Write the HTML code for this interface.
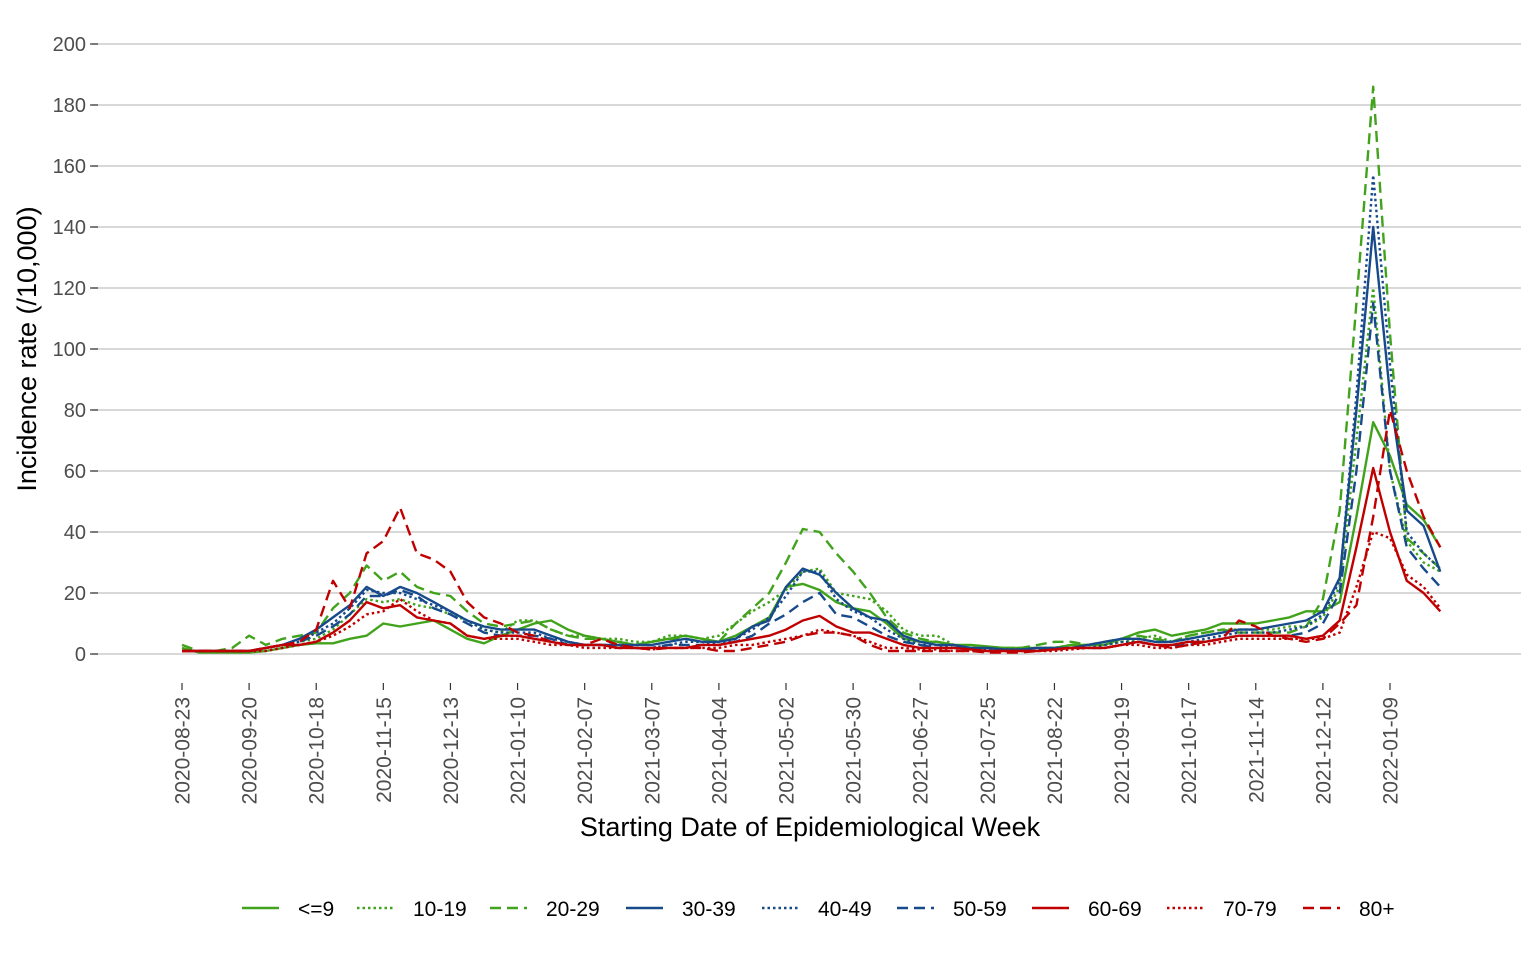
<!DOCTYPE html>
<html><head><meta charset="utf-8"><style>
html,body{margin:0;padding:0;background:#fff;}
svg{display:block;font-family:"Liberation Sans",Arial,sans-serif;}
</style></head><body>
<svg id="chart" width="1536" height="960" xmlns="http://www.w3.org/2000/svg">
<g id="grid"></g>
<g id="yticks"></g>
<g id="xticks"></g>
<g id="series"></g>
<text transform="translate(36,349) rotate(-90)" text-anchor="middle" font-size="27" fill="#000">Incidence rate (/10,000)</text>
<text x="810" y="836" text-anchor="middle" font-size="27" fill="#000">Starting Date of Epidemiological Week</text>
<g id="legend"></g>
</svg>
<script>
const yTicks=[0,20,40,60,80,100,120,140,160,180,200];
const xTickLabels=["2020-08-23","2020-09-20","2020-10-18","2020-11-15","2020-12-13","2021-01-10","2021-02-07","2021-03-07","2021-04-04","2021-05-02","2021-05-30","2021-06-27","2021-07-25","2021-08-22","2021-09-19","2021-10-17","2021-11-14","2021-12-12","2022-01-09"];
const seriesNames=["<=9","10-19","20-29","30-39","40-49","50-59","60-69","70-79","80+"];
const u9=[2,0.5,0.5,0.5,0.5,1,2,3,3.5,3.5, 5,6,10,9,10,11,8,5,3.5,6, 8,10,11,8,6,5,4,3,4,5, 6,5,4,6,9,12,22,23,21,17, 15,14,10,5,4,4,3,3,2.5,2, 2,2,2,3,3,3,5,7,8,6, 7,8,10,10,10,11,12,14,14,17, 45,76,65,49,44,35];
const g10=[1,1,1,1,1,2,3,4,5,8, 13,18,17,18,16,15,13,11,8,7, 11,11,8,6,6,5,5,4,4,6, 6,5,6,10,14,17,21,27,28,20, 19,18,14,8,6,6,3,2,2,2, 2,2,2,3,3,3,4,5,6,4, 6,7,8,8,8,8,9,9,12,22, 70,120,60,37,30,27];
const g20=[3,1,1,2,6,3,5,6,7,15, 20,29,24,27,22,20,19,14,10,9, 10,11,8,6,5,5,4,3,4,5, 5,4,4,10,15,20,30,41,40,33, 27,20,12,7,5,4,3,2,2,2, 2,3,4,4,3,4,5,6,5,4, 6,7,8,7,7,7,7,9,18,47, 115,186,105,38,33,28];
const b30=[1,1,1,1,1,2,3,5,8,12, 16,22,19,22,20,17,14,11,9,8, 8,8,6,4,3,3,3,3,3,4, 5,4,4,5,9,11,22,28,26,20, 15,12,11,6,4,3,3,2,2,1.5, 1.5,2,2,2,3,4,5,5,4,4, 5,6,7,8,8,9,10,11,14,25, 80,140,85,47,42,27];
const b40=[1,1,1,1,1,2,3,4,7,10, 15,21,20,20,18,16,14,11,8,7, 7,7,5,4,3,3,3,2,2,3, 4,4,3,5,8,12,19,27,27,18, 14,12,8,5,3,3,2,2,1.5,1.5, 1.5,2,2,2,2,3,4,4,3,3, 4,5,6,7,7,7,8,9,13,24, 85,157,95,40,33,28];
const b50=[1,1,1,1,1,2,3,4,6,9, 13,19,19,21,19,15,13,10,7,6, 6,6,5,3,3,3,2,2,2,3, 3,3,3,4,6,10,13,17,20,13, 12,9,6,4,3,2,2,2,1,1, 1,1.5,1.5,2,2,2,3,4,3,3, 3,4,5,6,6,6,6,7,10,20, 60,115,60,35,28,22];
const r60=[1,1,1,1,1,2,3,3,4,7, 11,17,15,16,12,11,10,6,5,6, 6,5,4,3,3,3,2,2,2,2, 2,3,3,4,5,6,8,11,12.5,9, 7,7,5,3,2,2,2,1.5,1,1, 1,1,1.5,2,2,2,3,4,3,3, 4,4,5,6,6,6,6,5,6,11, 35,61,40,24,20,14];
const r70=[1,1,1,1,1,1,2,3,4,6, 9,13,14,18,14,11,10,6,5,5, 5,4,3,3,2,2,2,2,1.5,2, 2,2,2,3,3,4,5,6,8,7, 6,4,2,2,1.5,1.5,1,1,1,1, 1,1,1,1.5,2,2,3,3,2,2, 3,3,4,5,5,5,5,5,5,7, 22,40,38,26,22,15];
const r80=[1,1,1,1,1,2,3,4,8,24, 15,33,37,48,33,31,27,17,12,10, 7,6,4,3,3,5,3,2,1.5,2, 2,2,1,1,2,3,4,6,7,7, 6,3,1,1,1,1,1,1,0.5,0.5, 0.5,1,1.5,2,2,2,3,4,3,2, 3,4,5,11,9,6,5,4,5,10, 16,45,80,60,45,35];
const seriesData=[u9,g10,g20,b30,b40,b50,r60,r70,r80];

const G="#41a31b",B="#174a8b",R="#c00000";
const styles=[[G,""],[G,"2.5,3"],[G,"11,6"],[B,""],[B,"2.5,3"],[B,"11,6"],[R,""],[R,"2.5,3"],[R,"11,6"]];
const legendX=[242,357,490,626,762,897,1032,1167,1303];
const NS="http://www.w3.org/2000/svg";
const x=i=>182+i*(1208/72);
const y=v=>654-v*(610/200);
function mk(tag,attrs,parent){const e=document.createElementNS(NS,tag);for(const k in attrs)e.setAttribute(k,attrs[k]);parent.appendChild(e);return e;}

const grid=document.getElementById('grid'),yt=document.getElementById('yticks');
yTicks.forEach(v=>{
  const l=mk('line',{x1:92,x2:1521,y1:y(v),y2:y(v),stroke:"#cccccc","stroke-width":1.4},grid);
  
  
  const tk=mk('line',{x1:90,x2:98,y1:y(v),y2:y(v),stroke:"#333","stroke-width":1.2},yt);
  
  
  const t=mk('text',{x:86,y:y(v)+7,"text-anchor":"end","font-size":20,fill:"#4d4d4d"},yt);
  
  
  t.textContent=v;
});
const xt=document.getElementById('xticks');
xTickLabels.forEach((s,k)=>{
  const px=x(k*4);
  const tk=mk('line',{x1:px,x2:px,y1:683,y2:690,stroke:"#333","stroke-width":1.2},xt);
  
  
  const t=mk('text',{transform:`translate(${px+7.5},697) rotate(-90)`,"text-anchor":"end","font-size":21,fill:"#4d4d4d"},xt);
  
  
  t.textContent=s;
});
const sg=document.getElementById('series');
seriesData.forEach((arr,si)=>{
  const d=arr.map((v,i)=>(i?'L':'M')+x(i).toFixed(1)+','+y(v).toFixed(1)).join('');
  const p=mk('path',{d:d,fill:"none",stroke:styles[si][0],"stroke-width":2.4,"stroke-dasharray":styles[si][1],"stroke-linejoin":"round"},sg);
  
  
});
const lg=document.getElementById('legend');
seriesNames.forEach((n,si)=>{
  const lx=legendX[si];
  const g=mk('g',{},lg);
  
  
  mk('line',{x1:lx,x2:lx+37,y1:908,y2:908,stroke:styles[si][0],"stroke-width":2.6,"stroke-dasharray":styles[si][1]},g);
  const t=mk('text',{x:lx+56,y:916,"font-size":21,fill:"#000"},g);
  t.textContent=n;
});
</script>
</body></html>
